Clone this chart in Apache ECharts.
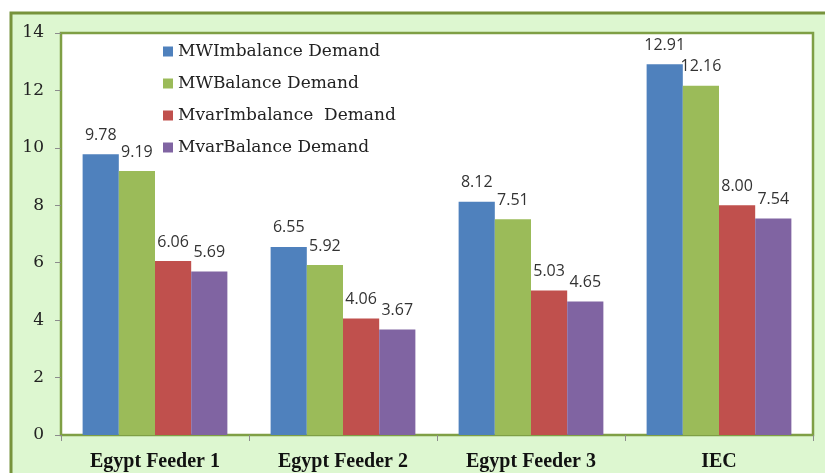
<!DOCTYPE html>
<html>
<head>
<meta charset="utf-8">
<script src="https://cdn.jsdelivr.net/npm/echarts@6/dist/echarts.min.js"></script>
<style>
html, body { margin: 0; padding: 0; background: #ffffff; }
#chart { width: 825px; height: 473px; }
</style>
</head>
<body>
<div id="chart"></div>
<script>
// categories and series values
var categories = ['Egypt Feeder 1', 'Egypt Feeder 2', 'Egypt Feeder 3', 'IEC'];
var mwImbalance = [9.78, 6.55, 8.12, 12.91];
var mwBalance = [9.19, 5.92, 7.51, 12.16];
var mvarImbalance = [6.06, 4.06, 5.03, 8.00];
var mvarBalance = [5.69, 3.67, 4.65, 7.54];
var seriesNames = ['MWImbalance Demand', 'MWBalance Demand', 'MvarImbalance  Demand', 'MvarBalance Demand'];
var colors = ['#4F81BD', '#9BBB59', '#C0504D', '#8064A2'];

var chart = echarts.init(document.getElementById('chart'));

function barSeries(name, data, color) {
    return {
        name: name,
        type: 'bar',
        data: data,
        barGap: '0%',
        barCategoryGap: '23%',
        itemStyle: { color: color },
        label: {
            show: true,
            position: 'top',
            distance: 11,
            formatter: function (p) { return p.value.toFixed(2); },
            fontFamily: 'Open Sans',
            fontSize: 16,
            color: '#333333'
        }
    };
}

var option = {
    backgroundColor: '#ffffff',
    animation: false,
    graphic: [{
        type: 'rect',
        z: -10,
        shape: { x: 11, y: 13, width: 840, height: 480 },
        style: { fill: '#DDF7D0', stroke: '#77933C', lineWidth: 3 }
    }],
    legend: {
        orient: 'vertical',
        left: 158,
        top: 38,
        icon: 'rect',
        itemWidth: 10,
        itemHeight: 10,
        itemGap: 15,
        data: seriesNames,
        textStyle: {
            fontFamily: 'DejaVu Serif',
            fontSize: 17,
            color: '#222222'
        }
    },
    grid: {
        left: 61,
        top: 33,
        right: 12,
        bottom: 38,
        show: true,
        backgroundColor: '#ffffff',
        borderColor: '#7F9F45',
        borderWidth: 2.5
    },
    xAxis: {
        type: 'category',
        data: categories,
        axisLine: { show: false },
        axisTick: { show: true, length: 6, lineStyle: { color: '#8C8C8C' } },
        axisLabel: {
            margin: 17,
            fontFamily: 'Liberation Serif',
            fontWeight: 'bold',
            fontSize: 20,
            color: '#111111'
        }
    },
    yAxis: {
        type: 'value',
        min: 0,
        max: 14,
        interval: 2,
        axisLine: { show: false },
        axisTick: { show: true, length: 6, lineStyle: { color: '#8C8C8C' } },
        splitLine: { show: false },
        axisLabel: {
            margin: 17,
            fontFamily: 'DejaVu Serif',
            fontSize: 17,
            color: '#222222'
        }
    },
    series: [
        barSeries(seriesNames[0], mwImbalance, colors[0]),
        barSeries(seriesNames[1], mwBalance, colors[1]),
        barSeries(seriesNames[2], mvarImbalance, colors[2]),
        barSeries(seriesNames[3], mvarBalance, colors[3])
    ]
};

chart.setOption(option, true);
</script>
</body>
</html>
